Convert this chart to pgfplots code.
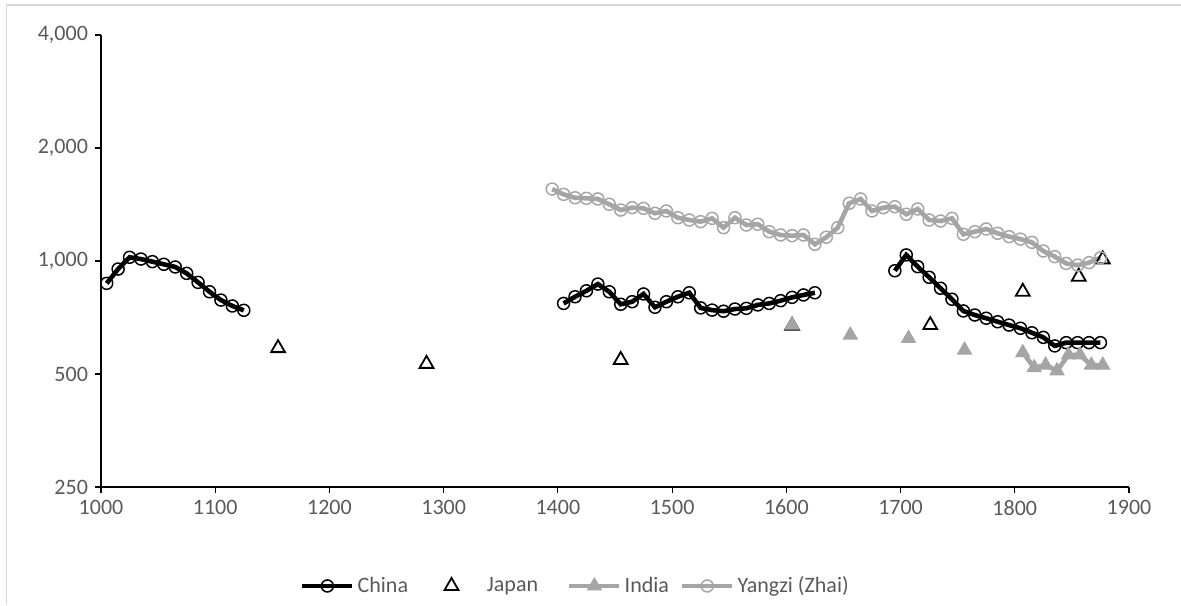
\documentclass[border=0pt]{standalone}
\usepackage{fontspec}
\setmainfont{Carlito}
\usepackage{pgfplots}
\pgfplotsset{compat=1.18}
\definecolor{cgray}{HTML}{A5A5A5}
\definecolor{ctext}{HTML}{595959}
\definecolor{cframe}{HTML}{D9D9D9}
\pgfplotsset{
  linelegend/.style={legend image code/.code={\draw[##1, mark repeat=2, mark phase=2] plot coordinates {(0pt,0pt) (12.5pt,0pt) (25pt,0pt)};}},
  markleg/.style={legend image code/.code={\path (0pt,0pt) (25pt,0pt); \draw[##1] plot coordinates {(9pt,0pt)};}},
}
\begin{document}
\begin{tikzpicture}
\useasboundingbox (0,0) rectangle (590.5pt,-302.5pt);
\draw[cframe, line width=0.6pt] (3.35pt,-302.5pt) -- (3.35pt,-2.5pt) -- (590.5pt,-2.5pt);
\begin{axis}[
  at={(50.5pt,-243.5pt)}, anchor=south west,
  scale only axis, width=514pt, height=226pt,
  xmin=1000, xmax=1900, ymin=250, ymax=4000,
  ymode=log, log basis y=2,
  axis x line*=bottom, axis y line*=left,
  axis line style={black, line width=0.6pt},
  every tick/.style={black, line width=0.6pt},
  tick align=outside, major tick length=3pt,
  xtick={1000,1100,...,1900},
  ytick={250,500,1000,2000,4000},
  yticklabels={250,500,{1,000},{2,000},{4,000}},
  tick label style={font=\fontsize{11}{13}\selectfont, text=ctext, /pgf/number format/assume math mode=true},
  xticklabel style={/pgf/number format/1000 sep={}},
  unbounded coords=jump,
  legend columns=4,
  legend style={draw=none, fill=none, at={(0.462,-0.219)}, anchor=center,
    font=\fontsize{11}{13}\selectfont, text=ctext,
    nodes={inner xsep=1.5pt},
    /tikz/column 2/.style={column sep=11pt},
    /tikz/column 4/.style={column sep=13pt},
    /tikz/column 6/.style={column sep=4pt},
    inner sep=0pt},
  legend cell align=left,
]
\addplot[black, line width=2.3pt, mark=o, mark size=3pt,
  mark options={line width=0.75pt, fill=none}, linelegend]
  coordinates {
(1005,872) (1015,952) (1025,1023) (1035,1012) (1045,996) (1055,980) (1065,964)
(1075,927) (1085,877) (1095,828) (1105,787) (1115,759) (1125,739)
(1130,nan)
(1405,771) (1415,803) (1425,833) (1435,868) (1445,828) (1455,767) (1465,779)
(1475,817) (1485,753) (1495,779) (1505,803) (1515,823) (1525,750) (1535,740)
(1545,735) (1555,745) (1565,748) (1575,764) (1585,771) (1595,784) (1605,800)
(1615,812) (1625,823)
(1630,nan)
(1695,942) (1705,1038) (1715,966) (1725,905) (1735,846) (1745,791) (1755,736)
(1765,718) (1775,704) (1785,689) (1795,675) (1805,662) (1815,644) (1825,626)
(1835,594) (1845,606) (1855,606) (1865,606) (1875,606)
};
\addlegendentry{China}
\addplot[black, only marks, mark=triangle, mark size=4pt,
  mark options={line width=0.9pt}, markleg]
  coordinates {
(1155,586) (1285,532) (1455,545) (1605,672) (1726,675) (1807,828) (1856,908) (1877,1010)
};
\addlegendentry{Japan}
\addplot[cgray, line width=2.3pt, mark=triangle*, mark size=4pt,
  mark options={line width=0.5pt, fill=cgray}, linelegend]
  coordinates {
(1605,675) (1610,nan) (1656,635) (1660,nan) (1707,622) (1710,nan) (1756,579) (1760,nan)
(1807,570) (1817,520) (1827,528) (1837,510) (1847,562) (1857,562) (1867,528) (1877,528)
};
\addlegendentry{India}
\addplot[cgray, line width=2.3pt, mark=o, mark size=3pt,
  mark options={line width=0.75pt, fill=none}, linelegend]
  coordinates {
(1395,1555) (1405,1505) (1415,1474) (1425,1469) (1435,1463) (1445,1416) (1455,1367)
(1465,1387) (1475,1381) (1485,1340) (1495,1359) (1505,1304) (1515,1286) (1525,1273)
(1535,1299) (1545,1227) (1555,1304) (1565,1247) (1575,1253) (1585,1197) (1595,1173)
(1605,1168) (1615,1173) (1625,1108) (1635,1157) (1645,1227) (1655,1425) (1665,1463)
(1675,1359) (1685,1387) (1695,1395) (1705,1332) (1715,1376) (1725,1286) (1735,1278)
(1745,1299) (1755,1178) (1765,1197) (1775,1217) (1785,1185) (1795,1161) (1805,1144)
(1815,1121) (1825,1063) (1835,1027) (1845,985) (1855,975) (1865,990) (1875,1020)
};
\addlegendentry{Yangzi (Zhai)}
\end{axis}
\end{tikzpicture}
\end{document}
